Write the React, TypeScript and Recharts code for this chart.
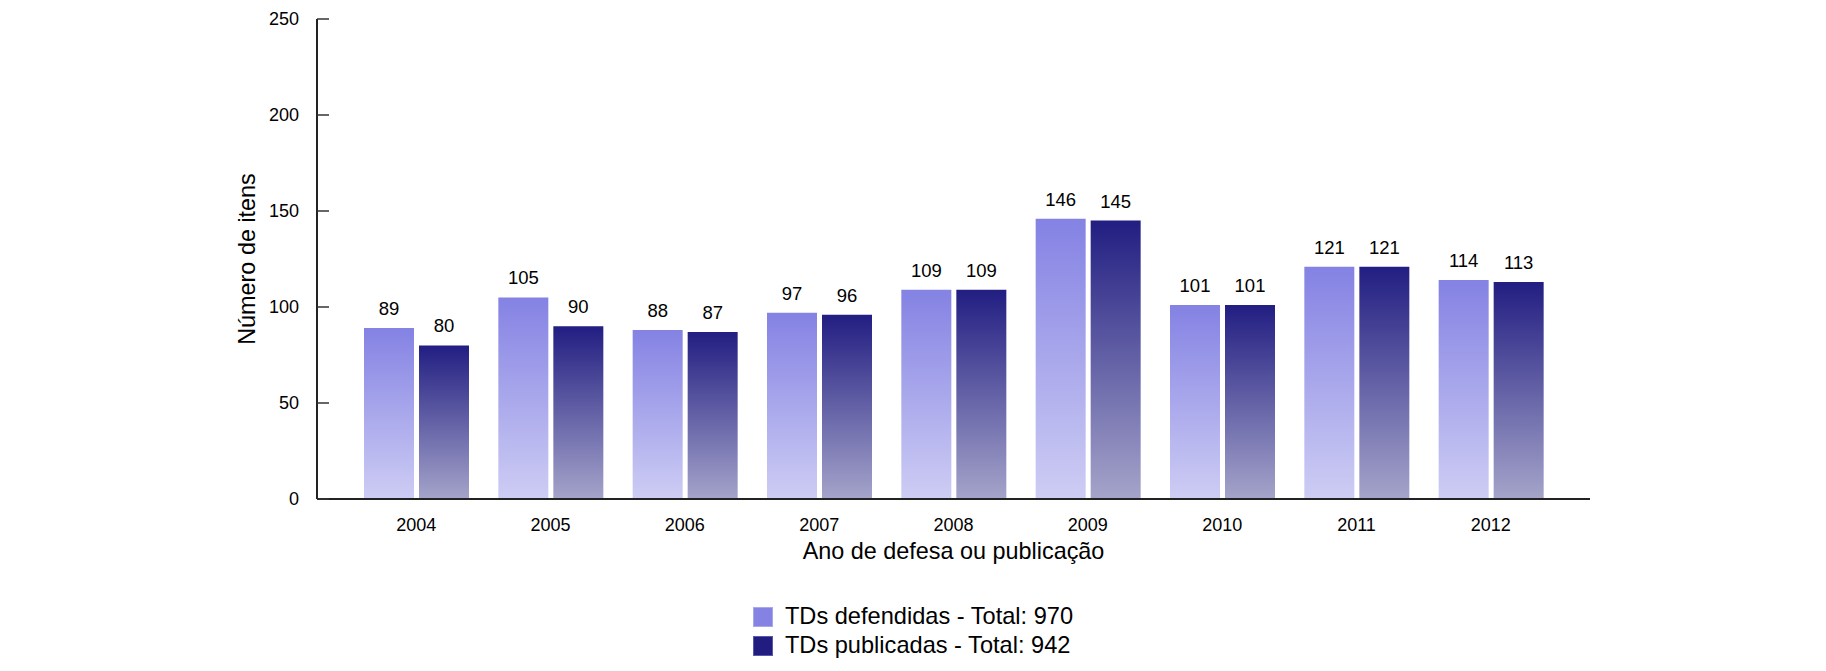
import { BarChart, Bar, XAxis, YAxis, Legend, LabelList } from "recharts";

const years = ["2004", "2005", "2006", "2007", "2008", "2009", "2010", "2011", "2012"];
const defendidas = [89, 105, 88, 97, 109, 146, 101, 121, 114];
const publicadas = [80, 90, 87, 96, 109, 145, 101, 121, 113];
const yTicks = [0, 50, 100, 150, 200, 250];

const seriesNames = {
  defendidas: "TDs defendidas - Total: 970",
  publicadas: "TDs publicadas - Total: 942",
};

const data = years.map((year, i) => ({
  year,
  defendidas: defendidas[i],
  publicadas: publicadas[i],
}));

const FONT = "'Liberation Sans', Arial, Helvetica, sans-serif";
const AXIS = "#222";

// y ticks: labels left of the axis, tick marks pointing into the plot
function YTick(props: any) {
  const { x, y, payload } = props;
  return (
    <g>
      <line x1={x + 18} x2={x + 30} y1={y} y2={y} stroke="#333" strokeWidth={1.5} />
      <text x={x} y={y} dy={6} textAnchor="end" fontSize={18} fill="#000" fontFamily={FONT}>
        {payload.value}
      </text>
    </g>
  );
}

function YLabel(props: any) {
  const vb = props.viewBox;
  const cy = vb.y + vb.height / 2;
  const cx = 247;
  return (
    <text
      x={cx}
      y={cy}
      transform={`rotate(-90 ${cx} ${cy})`}
      textAnchor="middle"
      dy={8}
      fontSize={23.4}
      fill="#000"
      fontFamily={FONT}
    >
      Número de itens
    </text>
  );
}

function LegendBox() {
  const rows = [
    { key: "defendidas", fill: "#8482e3", stroke: "#a9a8ee" },
    { key: "publicadas", fill: "#211d80", stroke: "#5a58a8" },
  ];
  return (
    <div style={{ fontFamily: FONT, fontSize: 23.6, color: "#000" }}>
      {rows.map((r) => (
        <div key={r.key} style={{ display: "flex", alignItems: "center", height: 29 }}>
          <span
            style={{
              width: 18,
              height: 18,
              background: r.fill,
              border: `1px solid ${r.stroke}`,
              marginRight: 12,
              display: "inline-block",
            }}
          />
          <span style={{ whiteSpace: "nowrap" }}>{seriesNames[r.key as keyof typeof seriesNames]}</span>
        </div>
      ))}
    </div>
  );
}

export default function App() {
  return (
    <div style={{ position: "absolute", left: 0, top: 0, background: "#fff" }}>
      <BarChart
        width={1826}
        height={671}
        data={data}
        margin={{ top: 19, right: 236, bottom: 11, left: 0 }}
        barCategoryGap={15}
        barGap={5}
      >
        <defs>
          <linearGradient id="gradLight" x1="0" y1="0" x2="0" y2="1">
            <stop offset="0%" stopColor="#8482e3" />
            <stop offset="100%" stopColor="#cecdf4" />
          </linearGradient>
          <linearGradient id="gradDark" x1="0" y1="0" x2="0" y2="1">
            <stop offset="0%" stopColor="#221e82" />
            <stop offset="100%" stopColor="#a5a4ca" />
          </linearGradient>
        </defs>
        <XAxis
          dataKey="year"
          height={103}
          padding={{ left: 32, right: 32 }}
          tickLine={false}
          tickSize={0}
          tickMargin={19}
          axisLine={{ stroke: AXIS, strokeWidth: 2 }}
          tick={{ fontSize: 18, fill: "#000", fontFamily: FONT }}
          label={{
            value: "Ano de defesa ou publicação",
            position: "insideTop",
            offset: 43,
            fontSize: 23.4,
            fill: "#000",
            fontFamily: FONT,
          }}
        />
        <YAxis
          width={317}
          domain={[0, 250]}
          ticks={yTicks}
          interval={0}
          tickLine={false}
          tickSize={0}
          tickMargin={18}
          axisLine={{ stroke: AXIS, strokeWidth: 2 }}
          tick={<YTick />}
          label={<YLabel />}
        />
        <Legend
          verticalAlign="bottom"
          align="center"
          layout="vertical"
          content={() => <LegendBox />}
        />
        <Bar dataKey="defendidas" fill="url(#gradLight)" isAnimationActive={false}>
          <LabelList dataKey="defendidas" position="top" offset={13} fontSize={18.5} fill="#000" fontFamily={FONT} />
        </Bar>
        <Bar dataKey="publicadas" fill="url(#gradDark)" isAnimationActive={false}>
          <LabelList dataKey="publicadas" position="top" offset={13} fontSize={18.5} fill="#000" fontFamily={FONT} />
        </Bar>
      </BarChart>
    </div>
  );
}
